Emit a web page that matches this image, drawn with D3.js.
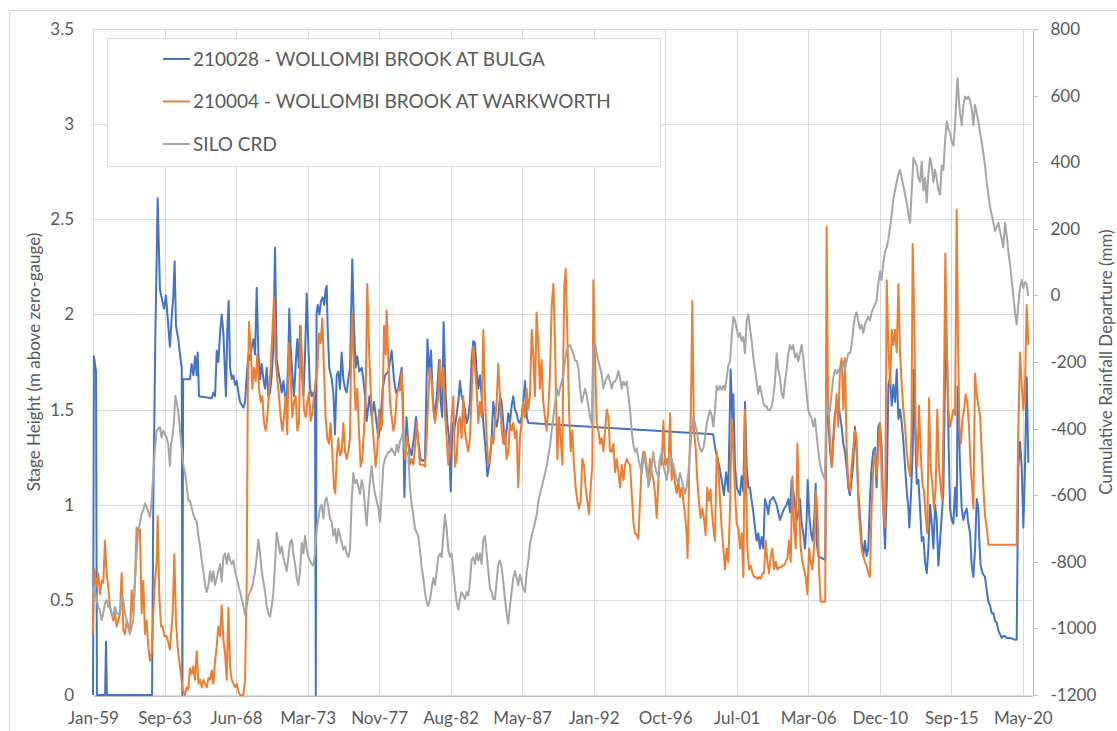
<!DOCTYPE html>
<html lang="en">
<head>
<meta charset="UTF-8">
<title>Wollombi Brook stage height vs SILO CRD</title>
<script src="https://cdn.jsdelivr.net/npm/d3@7"></script>
<style>
body { margin: 0; background: #ffffff; }
svg { display: block; font-family: Lato, "Open Sans", sans-serif; }
.grid line { stroke: #d9d9d9; stroke-width: 1; shape-rendering: crispEdges; }
.axis text { fill: #595959; font-size: 17px; font-family: Lato, "Open Sans", sans-serif; }
.axis path, .axis line { stroke: #bfbfbf; shape-rendering: crispEdges; }
.series { fill: none; stroke-width: 2; stroke-linejoin: round; }
.title { fill: #595959; font-size: 17px; }
.legend text { fill: #595959; font-size: 19px; }
</style>
</head>
<body>
<div id="chart"></div>
<script>
// ---- data: [decimal year, value] ----
const xTickLabels = ["Jan-59","Sep-63","Jun-68","Mar-73","Nov-77","Aug-82","May-87","Jan-92","Oct-96","Jul-01","Mar-06","Dec-10","Sep-15","May-20"];
const tickStepDays = 1725;
const leftTicks = [0, 0.5, 1, 1.5, 2, 2.5, 3, 3.5];
const rightTicks = [-1200, -1000, -800, -600, -400, -200, 0, 200, 400, 600, 800];

const seriesNames = ["210028 - WOLLOMBI BROOK AT BULGA", "210004 - WOLLOMBI BROOK AT WARKWORTH", "SILO CRD"];
const seriesColors = ["#4472c4", "#ed7d31", "#a5a5a5"];

// 210028 stage height (m)
const bulga = [
[1959.00,0.00],[1959.06,1.78],[1959.20,1.70],[1959.26,0.00],[1959.80,0.00],[1959.86,0.28],[1959.92,0.00],
[1962.90,0.00],[1962.98,1.00],[1963.12,1.90],[1963.27,2.61],[1963.42,2.13],[1963.53,2.09],[1963.69,2.03],[1963.82,2.10],
[1963.97,1.94],[1964.08,1.83],[1964.19,1.98],[1964.30,2.09],[1964.39,2.28],[1964.48,1.94],[1964.63,1.87],[1964.79,1.76],
[1964.86,1.72],[1964.90,0.00],[1964.95,1.66],[1965.40,1.66],[1965.51,1.74],[1965.63,1.68],[1965.74,1.78],[1965.85,1.68],
[1965.91,1.80],[1966.00,1.57],[1966.84,1.56],[1966.95,1.59],[1967.06,1.57],[1967.17,1.81],[1967.28,1.75],[1967.39,1.90],
[1967.50,2.00],[1967.61,1.90],[1967.72,1.68],[1967.78,1.57],[1967.87,1.92],[1967.96,2.07],[1968.05,1.72],[1968.16,1.66],
[1968.27,1.68],[1968.38,1.63],[1968.49,1.65],[1968.60,1.59],[1968.71,1.54],[1968.93,1.51],[1969.04,1.54],[1969.15,1.68],
[1969.26,1.79],[1969.37,1.76],[1969.48,1.83],[1969.59,1.87],[1969.70,1.79],[1969.81,2.14],[1969.92,1.79],[1970.03,1.66],
[1970.14,1.74],[1970.25,1.66],[1970.36,1.61],[1970.47,1.72],[1970.58,1.57],[1970.69,1.59],[1970.80,1.68],[1970.91,1.83],
[1971.02,2.35],[1971.13,1.76],[1971.24,1.70],[1971.35,1.65],[1971.46,1.59],[1971.57,1.65],[1971.68,1.57],[1971.79,1.54],
[1971.90,1.79],[1971.96,2.03],[1972.05,1.83],[1972.18,1.66],[1972.27,1.57],[1972.40,1.76],[1972.49,1.87],[1972.60,1.72],
[1972.67,1.94],[1972.78,1.72],[1972.89,1.57],[1973.00,1.79],[1973.11,2.11],[1973.22,1.83],[1973.33,1.61],[1973.44,1.57],
[1973.55,1.59],[1973.66,1.59],[1973.71,0.00],[1973.76,2.00],[1973.84,2.05],[1973.95,2.00],[1974.05,2.07],[1974.16,2.09],
[1974.27,2.05],[1974.36,2.13],[1974.43,2.15],[1974.49,1.94],[1974.60,1.72],[1974.76,1.66],[1974.87,1.59],[1974.98,1.37],
[1975.09,1.68],[1975.20,1.70],[1975.31,1.61],[1975.42,1.80],[1975.53,1.66],[1975.64,1.61],[1975.75,1.59],[1975.86,1.66],
[1975.97,1.72],[1976.12,2.29],[1976.23,1.94],[1976.34,1.72],[1976.45,1.78],[1976.58,1.70],[1976.74,1.72],[1976.85,1.66],
[1976.96,1.57],[1977.07,1.44],[1977.25,1.57],[1977.40,1.46],[1977.55,1.54],[1977.68,1.46],[1977.84,1.35],[1977.95,1.41],
[1978.13,1.61],[1978.28,1.68],[1978.50,1.70],[1978.72,1.81],[1978.87,1.66],[1979.00,1.59],[1979.16,1.61],[1979.38,1.72],
[1979.46,1.55],[1979.56,1.04],[1979.70,1.46],[1979.82,1.32],[1980.04,1.26],[1980.19,1.35],[1980.33,1.46],[1980.48,1.33],
[1980.63,1.24],[1980.77,1.23],[1980.92,1.24],[1981.08,1.87],[1981.21,1.68],[1981.32,1.81],[1981.43,1.57],[1981.54,1.46],
[1981.70,1.57],[1981.85,1.76],[1981.96,1.54],[1982.06,1.46],[1982.15,1.96],[1982.29,1.57],[1982.40,1.43],[1982.51,1.35],
[1982.62,1.07],[1982.73,1.43],[1982.84,1.39],[1982.97,1.45],[1983.12,1.54],[1983.23,1.65],[1983.34,1.57],[1983.45,1.54],
[1983.56,1.50],[1983.67,1.43],[1983.78,1.46],[1983.89,1.54],[1984.00,1.76],[1984.11,1.86],[1984.22,1.85],[1984.33,1.70],
[1984.44,1.61],[1984.55,1.68],[1984.66,1.57],[1984.77,1.43],[1984.95,1.26],[1985.04,1.15],[1985.17,1.21],[1985.32,1.35],
[1985.43,1.54],[1985.54,1.46],[1985.65,1.41],[1985.76,1.46],[1985.87,1.57],[1985.98,1.54],[1986.09,1.43],[1986.20,1.32],
[1986.31,1.39],[1986.42,1.48],[1986.53,1.43],[1986.64,1.52],[1986.75,1.57],[1986.86,1.50],[1986.97,1.48],[1987.08,1.44],
[1987.19,1.43],[1987.30,1.46],[1987.41,1.54],[1987.53,1.65],[1987.64,1.46],[1987.75,1.43],[1999.95,1.37],[2000.10,1.29],
[2000.36,1.20],[2000.51,1.13],[2000.66,1.05],[2000.80,1.17],[2000.95,1.07],[2001.10,1.71],[2001.21,1.45],[2001.28,1.58],
[2001.39,1.20],[2001.50,1.09],[2001.61,1.07],[2001.72,1.05],[2001.83,1.15],[2001.94,1.07],[2002.05,1.54],[2002.16,1.20],
[2002.27,1.09],[2002.38,1.09],[2002.49,1.02],[2002.60,0.96],[2002.71,0.88],[2002.82,0.81],[2002.93,0.85],[2003.04,0.77],
[2003.15,0.83],[2003.26,0.77],[2003.37,1.03],[2003.48,1.00],[2003.59,0.95],[2003.70,1.02],[2003.92,1.04],[2004.14,1.00],
[2004.36,0.92],[2004.58,0.97],[2004.80,1.00],[2004.91,1.03],[2005.02,0.96],[2005.13,1.13],[2005.24,1.07],[2005.35,1.00],
[2005.46,0.92],[2005.57,0.96],[2005.68,1.03],[2005.79,0.90],[2005.90,0.85],[2006.01,0.77],[2006.12,0.92],[2006.19,1.13],
[2006.30,0.94],[2006.41,0.85],[2006.52,0.81],[2006.63,0.94],[2006.72,1.11],[2006.78,0.81],[2006.89,0.73],[2007.11,0.72],
[2007.35,0.71],[2007.44,1.54],[2007.55,1.45],[2007.66,1.30],[2007.77,1.20],[2007.88,1.35],[2007.99,1.48],[2008.10,1.50],
[2008.21,1.54],[2008.32,1.47],[2008.43,1.41],[2008.54,1.32],[2008.65,1.28],[2008.76,1.20],[2008.87,1.09],[2008.98,1.05],
[2009.09,1.13],[2009.20,1.22],[2009.31,1.41],[2009.42,1.28],[2009.53,1.07],[2009.64,0.94],[2009.75,0.81],[2009.86,0.73],
[2009.97,0.81],[2010.08,0.73],[2010.19,0.77],[2010.30,1.03],[2010.41,1.20],[2010.52,1.28],[2010.63,1.30],[2010.74,1.09],
[2010.85,1.41],[2010.96,1.43],[2011.07,1.30],[2011.18,0.98],[2011.30,0.77],[2011.41,1.07],[2011.52,1.63],[2011.63,1.67],
[2011.74,1.52],[2011.85,1.63],[2011.96,1.54],[2012.07,1.71],[2012.18,1.45],[2012.29,1.50],[2012.40,1.43],[2012.51,1.33],
[2012.62,1.20],[2012.73,1.07],[2012.84,0.98],[2012.90,0.88],[2013.01,1.05],[2013.12,1.28],[2013.21,1.71],[2013.28,1.41],
[2013.39,1.11],[2013.50,1.13],[2013.61,0.98],[2013.72,0.81],[2013.83,0.83],[2013.94,0.70],[2014.05,0.64],[2014.16,0.77],
[2014.27,1.00],[2014.38,0.90],[2014.49,0.77],[2014.60,1.00],[2014.71,0.92],[2014.82,0.68],[2014.93,0.81],[2015.04,0.94],
[2015.15,1.07],[2015.26,1.67],[2015.32,1.95],[2015.41,1.71],[2015.50,1.30],[2015.59,0.98],[2015.70,0.92],[2015.81,0.90],
[2015.92,1.09],[2016.03,0.94],[2016.09,1.62],[2016.18,1.41],[2016.25,1.20],[2016.36,0.98],[2016.47,0.92],[2016.58,0.96],
[2016.69,0.98],[2016.80,0.90],[2016.91,0.85],[2017.02,0.68],[2017.13,0.62],[2017.24,0.77],[2017.35,1.03],[2017.46,0.98],
[2017.52,0.81],[2017.61,0.68],[2017.74,0.64],[2017.90,0.62],[2018.01,0.55],[2018.12,0.49],[2018.23,0.47],[2018.34,0.43],
[2018.45,0.43],[2018.56,0.39],[2018.67,0.38],[2018.78,0.34],[2018.89,0.32],[2019.00,0.30],[2019.11,0.31],[2019.22,0.31],
[2019.33,0.30],[2019.55,0.30],[2019.88,0.29],[2019.99,0.29],[2020.10,1.20],[2020.21,1.33],[2020.32,1.20],[2020.43,0.88],
[2020.54,1.20],[2020.65,1.67],[2020.76,1.22]
];

// 210004 stage height (m)
const warkworth = [
[1958.98,0.32],[1959.09,0.66],[1959.24,0.57],[1959.35,0.64],[1959.46,0.53],[1959.57,0.60],[1959.68,0.59],[1959.79,0.81],
[1959.90,0.64],[1960.01,0.57],[1960.12,0.46],[1960.23,0.43],[1960.34,0.39],[1960.45,0.43],[1960.56,0.36],[1960.67,0.39],
[1960.78,0.43],[1960.89,0.64],[1961.00,0.34],[1961.11,0.32],[1961.22,0.39],[1961.33,0.36],[1961.44,0.32],[1961.55,0.55],
[1961.66,0.43],[1961.77,0.60],[1961.88,0.88],[1961.99,0.85],[1962.10,0.87],[1962.21,0.43],[1962.32,0.60],[1962.43,0.32],
[1962.54,0.39],[1962.65,0.25],[1962.76,0.18],[1962.87,0.22],[1962.98,0.43],[1963.09,0.60],[1963.20,0.69],[1963.27,0.94],
[1963.38,0.52],[1963.49,0.36],[1963.60,0.36],[1963.71,0.31],[1963.86,0.31],[1964.08,0.24],[1964.26,0.43],[1964.37,0.74],
[1964.48,0.39],[1964.59,0.25],[1964.74,0.15],[1964.92,0.03],[1965.07,0.00],[1965.18,0.04],[1965.29,0.03],[1965.40,0.14],
[1965.51,0.11],[1965.62,0.15],[1965.73,0.08],[1965.85,0.23],[1965.96,0.06],[1966.07,0.08],[1966.18,0.04],[1966.29,0.08],
[1966.40,0.06],[1966.51,0.04],[1966.62,0.09],[1966.73,0.08],[1966.84,0.13],[1966.95,0.06],[1967.05,0.17],[1967.16,0.25],
[1967.28,0.36],[1967.39,0.31],[1967.50,0.47],[1967.61,0.29],[1967.72,0.22],[1967.83,0.08],[1967.94,0.46],[1968.05,0.15],
[1968.16,0.08],[1968.27,0.06],[1968.38,0.04],[1968.49,0.06],[1968.60,0.02],[1968.71,0.00],[1968.93,0.00],[1969.04,0.08],
[1969.15,0.60],[1969.22,1.60],[1969.30,1.96],[1969.41,1.83],[1969.52,1.61],[1969.63,1.72],[1969.74,1.65],[1969.85,1.79],
[1969.96,1.61],[1970.07,1.54],[1970.18,1.57],[1970.29,1.43],[1970.40,1.39],[1970.51,1.46],[1970.62,1.59],[1970.73,1.72],
[1970.84,1.90],[1970.95,2.09],[1971.06,1.76],[1971.17,1.66],[1971.28,1.57],[1971.39,1.46],[1971.50,1.39],[1971.61,1.46],
[1971.72,1.57],[1971.83,1.37],[1971.94,1.85],[1972.05,1.68],[1972.16,1.46],[1972.27,1.54],[1972.38,1.57],[1972.49,1.39],
[1972.60,1.43],[1972.71,1.94],[1972.82,1.72],[1972.93,1.50],[1973.04,1.46],[1973.15,1.54],[1973.26,1.59],[1973.37,1.44],
[1973.48,1.48],[1973.59,1.57],[1973.70,1.65],[1973.81,1.72],[1973.92,1.90],[1974.03,1.85],[1974.14,1.98],[1974.25,1.72],
[1974.36,1.46],[1974.47,1.35],[1974.58,1.32],[1974.69,1.43],[1974.80,1.28],[1974.91,1.09],[1975.00,1.06],[1975.09,1.24],
[1975.20,1.35],[1975.31,1.26],[1975.42,1.28],[1975.53,1.43],[1975.64,1.28],[1975.75,1.24],[1975.86,1.28],[1975.97,1.35],
[1976.04,1.78],[1976.12,2.00],[1976.23,1.72],[1976.34,1.50],[1976.45,1.61],[1976.56,1.39],[1976.67,1.20],[1976.78,1.24],
[1976.89,1.39],[1977.00,1.57],[1977.11,2.16],[1977.22,1.83],[1977.33,1.61],[1977.44,1.43],[1977.55,1.32],[1977.66,1.20],
[1977.77,1.28],[1977.88,1.50],[1977.99,1.39],[1978.10,1.43],[1978.22,1.94],[1978.33,1.79],[1978.39,2.02],[1978.50,1.76],
[1978.61,1.54],[1978.72,1.46],[1978.83,1.39],[1978.94,1.43],[1979.05,1.57],[1979.16,1.61],[1979.27,1.60],[1979.38,1.70],
[1979.49,1.40],[1979.60,1.24],[1979.71,1.36],[1979.82,1.32],[1979.93,1.21],[1980.04,1.24],[1980.15,1.21],[1980.26,1.30],
[1980.37,1.43],[1980.48,1.32],[1980.59,1.21],[1980.70,1.21],[1980.81,1.21],[1980.92,1.20],[1981.03,1.35],[1981.14,1.57],
[1981.25,1.72],[1981.36,1.65],[1981.47,1.50],[1981.58,1.43],[1981.69,1.50],[1981.80,1.57],[1981.91,1.76],[1982.02,1.61],
[1982.13,1.72],[1982.24,1.48],[1982.35,1.35],[1982.46,1.21],[1982.57,1.28],[1982.68,1.46],[1982.79,1.57],[1982.90,1.20],
[1983.01,1.24],[1983.12,1.43],[1983.23,1.46],[1983.34,1.35],[1983.45,1.57],[1983.56,1.39],[1983.67,1.32],[1983.78,1.28],
[1983.89,1.35],[1984.00,1.57],[1984.11,1.83],[1984.22,1.72],[1984.33,1.61],[1984.44,1.43],[1984.55,1.54],[1984.66,1.46],
[1984.77,1.92],[1984.88,1.57],[1984.99,1.35],[1985.10,1.21],[1985.21,1.24],[1985.32,1.35],[1985.43,1.32],[1985.54,1.43],
[1985.65,1.54],[1985.76,1.74],[1985.87,1.57],[1985.98,1.39],[1986.09,1.32],[1986.20,1.39],[1986.31,1.24],[1986.42,1.28],
[1986.53,1.43],[1986.64,1.39],[1986.75,1.43],[1986.86,1.35],[1986.97,1.39],[1987.08,1.09],[1987.19,1.35],[1987.30,1.43],
[1987.41,1.54],[1987.52,1.46],[1987.63,1.61],[1987.74,1.50],[1987.85,1.57],[1987.97,1.92],[1988.07,1.79],[1988.18,1.57],
[1988.29,2.01],[1988.40,1.83],[1988.51,1.61],[1988.62,1.76],[1988.73,1.54],[1988.84,1.46],[1988.95,1.39],[1989.06,1.50],
[1989.17,1.68],[1989.29,2.05],[1989.40,2.16],[1989.51,1.83],[1989.57,1.57],[1989.66,1.24],[1989.77,1.46],[1989.88,1.35],
[1989.99,1.21],[1990.05,1.76],[1990.12,2.15],[1990.21,2.24],[1990.32,1.90],[1990.43,1.50],[1990.54,1.28],[1990.65,1.39],
[1990.76,1.21],[1990.87,1.09],[1990.98,1.02],[1991.09,0.98],[1991.20,1.02],[1991.31,1.24],[1991.42,1.21],[1991.53,1.09],
[1991.64,1.02],[1991.75,0.95],[1991.86,1.09],[1991.97,1.21],[1992.04,2.18],[1992.15,1.76],[1992.26,1.43],[1992.37,1.39],
[1992.48,1.32],[1992.59,1.35],[1992.70,1.28],[1992.81,1.39],[1992.92,1.50],[1993.03,1.46],[1993.14,1.28],[1993.25,1.28],
[1993.36,1.32],[1993.47,1.17],[1993.58,1.24],[1993.69,1.17],[1993.80,1.09],[1993.91,1.21],[1994.02,1.13],[1994.13,1.21],
[1994.24,1.24],[1994.35,1.22],[1994.46,1.21],[1994.57,1.06],[1994.68,0.91],[1994.79,0.85],[1994.90,0.84],[1995.01,0.82],
[1995.12,1.02],[1995.23,1.21],[1995.34,1.28],[1995.45,1.24],[1995.56,1.17],[1995.67,1.13],[1995.78,1.24],[1995.89,1.17],
[1996.00,1.13],[1996.11,1.06],[1996.22,0.93],[1996.33,1.13],[1996.44,1.24],[1996.55,1.21],[1996.66,1.44],[1996.77,1.21],
[1996.88,1.24],[1996.99,1.17],[1997.10,1.48],[1997.21,1.13],[1997.32,1.21],[1997.43,1.11],[1997.54,1.06],[1997.65,1.13],
[1997.76,1.04],[1997.87,1.09],[1997.98,1.02],[1998.09,0.95],[1998.20,0.84],[1998.26,0.72],[1998.37,1.20],[1998.48,1.50],
[1998.57,2.07],[1998.68,1.39],[1998.79,1.30],[1998.90,1.13],[1999.01,1.02],[1999.12,0.93],[1999.23,0.98],[1999.34,0.93],
[1999.45,0.84],[1999.56,1.09],[1999.67,1.02],[1999.78,1.08],[1999.85,0.98],[1999.96,0.88],[2000.07,0.81],[2000.18,1.28],
[2000.29,1.20],[2000.40,1.03],[2000.51,0.88],[2000.62,0.77],[2000.73,0.66],[2000.84,0.77],[2000.95,0.70],[2001.06,0.98],
[2001.17,1.45],[2001.28,1.28],[2001.39,1.07],[2001.50,0.90],[2001.61,0.88],[2001.72,0.77],[2001.83,0.85],[2001.94,0.62],
[2002.05,1.50],[2002.12,1.09],[2002.21,0.77],[2002.32,0.66],[2002.43,0.68],[2002.54,0.64],[2002.65,0.62],[2002.76,0.62],
[2002.87,0.61],[2002.98,0.62],[2003.09,0.61],[2003.20,0.64],[2003.31,0.64],[2003.42,0.81],[2003.53,0.70],[2003.64,0.64],
[2003.75,0.73],[2003.86,0.77],[2003.97,0.66],[2004.08,0.70],[2004.19,0.66],[2004.30,0.67],[2004.41,0.67],[2004.52,0.68],
[2004.63,0.68],[2004.74,0.70],[2004.85,0.72],[2004.96,0.81],[2005.07,0.70],[2005.18,1.15],[2005.29,0.88],[2005.40,0.77],
[2005.51,1.32],[2005.62,0.98],[2005.73,0.77],[2005.84,0.70],[2005.95,0.66],[2006.06,0.62],[2006.17,0.53],[2006.28,0.77],
[2006.39,0.70],[2006.50,0.66],[2006.61,0.77],[2006.72,1.07],[2006.83,0.98],[2006.94,0.66],[2007.05,0.49],[2007.35,0.49],
[2007.44,2.46],[2007.53,1.58],[2007.62,1.41],[2007.71,1.28],[2007.80,1.20],[2007.88,1.32],[2007.99,1.45],[2008.10,1.58],
[2008.21,1.41],[2008.32,1.71],[2008.43,1.77],[2008.54,1.50],[2008.65,1.77],[2008.76,1.30],[2008.87,1.11],[2008.98,1.07],
[2009.09,1.20],[2009.20,1.30],[2009.31,1.39],[2009.42,1.35],[2009.53,1.02],[2009.64,0.88],[2009.75,0.77],[2009.86,0.73],
[2009.97,0.70],[2010.08,0.68],[2010.19,0.64],[2010.30,0.62],[2010.41,0.98],[2010.52,1.20],[2010.63,1.28],[2010.74,1.15],
[2010.85,1.28],[2010.96,1.43],[2011.07,1.20],[2011.18,0.98],[2011.30,0.88],[2011.41,2.18],[2011.52,1.84],[2011.63,1.63],
[2011.74,1.92],[2011.85,1.84],[2011.96,1.92],[2012.07,1.80],[2012.18,2.16],[2012.29,1.80],[2012.40,1.63],[2012.51,1.50],
[2012.62,1.41],[2012.73,1.28],[2012.84,1.20],[2012.95,1.15],[2013.04,1.37],[2013.12,2.37],[2013.21,2.05],[2013.32,1.41],
[2013.43,1.20],[2013.54,1.52],[2013.65,1.28],[2013.76,1.11],[2013.87,1.07],[2013.98,0.94],[2014.09,0.85],[2014.20,1.56],
[2014.31,1.20],[2014.42,1.11],[2014.53,0.98],[2014.64,1.09],[2014.75,1.50],[2014.86,1.20],[2014.97,1.09],[2015.08,1.02],
[2015.19,1.62],[2015.28,2.32],[2015.37,1.84],[2015.48,1.50],[2015.59,1.41],[2015.70,1.45],[2015.81,1.50],[2015.92,1.47],
[2016.03,2.55],[2016.12,1.84],[2016.21,1.41],[2016.30,1.32],[2016.41,1.45],[2016.52,1.50],[2016.62,1.58],[2016.73,1.54],
[2016.84,1.41],[2016.95,1.20],[2017.06,1.07],[2017.13,0.98],[2017.24,1.69],[2017.35,1.58],[2017.46,1.52],[2017.57,1.47],
[2017.68,1.28],[2017.79,1.09],[2017.90,0.94],[2018.01,0.88],[2018.12,0.79],[2019.99,0.79],[2020.10,1.41],[2020.21,1.80],
[2020.32,1.63],[2020.43,1.50],[2020.54,1.63],[2020.65,2.05],[2020.76,1.84]
];

// SILO cumulative rainfall departure (mm), right axis
const siloCrd = [
[1958.98,-895],[1959.09,-875],[1959.24,-915],[1959.35,-935],[1959.46,-945],[1959.57,-975],[1959.68,-955],[1959.79,-925],
[1959.90,-915],[1960.01,-935],[1960.12,-935],[1960.23,-955],[1960.34,-965],[1960.45,-935],[1960.56,-955],[1960.67,-955],
[1960.78,-955],[1960.89,-905],[1961.00,-915],[1961.11,-955],[1961.22,-975],[1961.33,-995],[1961.44,-1015],[1961.55,-995],
[1961.66,-975],[1961.77,-855],[1961.88,-775],[1961.99,-705],[1962.10,-685],[1962.21,-655],[1962.32,-645],[1962.43,-625],
[1962.54,-635],[1962.65,-650],[1962.76,-665],[1962.87,-620],[1962.98,-534],[1963.09,-460],[1963.20,-406],[1963.31,-400],
[1963.42,-396],[1963.53,-427],[1963.64,-406],[1963.75,-417],[1963.86,-427],[1963.97,-448],[1964.08,-512],[1964.15,-448],
[1964.24,-427],[1964.35,-375],[1964.44,-301],[1964.53,-322],[1964.64,-354],[1964.75,-406],[1964.86,-459],[1964.97,-512],
[1965.08,-533],[1965.19,-575],[1965.30,-617],[1965.41,-617],[1965.52,-638],[1965.63,-659],[1965.74,-670],[1965.85,-680],
[1965.96,-722],[1966.07,-754],[1966.18,-796],[1966.29,-828],[1966.40,-870],[1966.51,-891],[1966.62,-870],[1966.73,-828],
[1966.84,-859],[1966.95,-828],[1967.06,-870],[1967.17,-849],[1967.28,-828],[1967.39,-807],[1967.50,-859],[1967.61,-786],
[1967.72,-775],[1967.83,-807],[1967.94,-775],[1968.05,-796],[1968.16,-807],[1968.27,-796],[1968.38,-828],[1968.49,-849],
[1968.60,-870],[1968.71,-891],[1968.82,-912],[1968.93,-933],[1969.04,-960],[1969.15,-933],[1969.26,-901],[1969.37,-891],
[1969.48,-880],[1969.59,-859],[1969.70,-828],[1969.81,-786],[1969.92,-733],[1970.03,-775],[1970.14,-828],[1970.25,-859],
[1970.36,-891],[1970.47,-933],[1970.58,-954],[1970.69,-965],[1970.80,-933],[1970.91,-891],[1971.02,-807],[1971.13,-712],
[1971.24,-743],[1971.35,-775],[1971.46,-754],[1971.57,-786],[1971.68,-807],[1971.79,-828],[1971.90,-786],[1972.01,-743],
[1972.12,-733],[1972.23,-775],[1972.34,-807],[1972.45,-849],[1972.56,-870],[1972.67,-828],[1972.78,-743],[1972.89,-775],
[1973.00,-722],[1973.11,-764],[1973.22,-786],[1973.33,-796],[1973.44,-807],[1973.55,-812],[1973.66,-775],[1973.77,-701],
[1973.88,-670],[1973.99,-638],[1974.10,-628],[1974.21,-670],[1974.32,-617],[1974.43,-607],[1974.54,-638],[1974.65,-670],
[1974.76,-680],[1974.87,-722],[1974.98,-701],[1975.09,-743],[1975.20,-701],[1975.31,-722],[1975.42,-743],[1975.53,-764],
[1975.64,-754],[1975.75,-775],[1975.86,-786],[1975.97,-764],[1976.08,-617],[1976.19,-533],[1976.30,-564],[1976.41,-554],
[1976.52,-575],[1976.63,-596],[1976.74,-554],[1976.85,-575],[1976.96,-638],[1977.07,-691],[1977.18,-617],[1977.29,-554],
[1977.40,-512],[1977.51,-564],[1977.62,-596],[1977.73,-617],[1977.84,-638],[1977.95,-680],[1978.06,-596],[1978.17,-512],
[1978.28,-491],[1978.39,-480],[1978.50,-470],[1978.61,-470],[1978.72,-459],[1978.83,-470],[1978.94,-480],[1979.05,-448],
[1979.16,-470],[1979.27,-438],[1979.38,-427],[1979.49,-406],[1979.60,-459],[1979.71,-470],[1979.82,-480],[1979.93,-575],
[1980.04,-628],[1980.15,-659],[1980.26,-701],[1980.37,-712],[1980.48,-722],[1980.59,-764],[1980.70,-817],[1980.81,-849],
[1980.92,-891],[1981.03,-922],[1981.14,-933],[1981.25,-912],[1981.36,-880],[1981.47,-849],[1981.58,-870],[1981.69,-828],
[1981.80,-786],[1981.91,-775],[1982.02,-786],[1982.13,-722],[1982.24,-659],[1982.35,-701],[1982.46,-764],[1982.57,-786],
[1982.68,-775],[1982.79,-828],[1982.90,-880],[1983.01,-922],[1983.12,-944],[1983.23,-912],[1983.34,-891],[1983.45,-901],
[1983.56,-912],[1983.67,-891],[1983.78,-901],[1983.89,-859],[1984.00,-796],[1984.11,-786],[1984.22,-807],[1984.33,-775],
[1984.44,-796],[1984.55,-775],[1984.66,-807],[1984.77,-733],[1984.88,-722],[1984.99,-775],[1985.10,-828],[1985.21,-880],
[1985.32,-891],[1985.43,-912],[1985.54,-912],[1985.65,-859],[1985.76,-807],[1985.87,-796],[1985.98,-817],[1986.09,-859],
[1986.20,-912],[1986.31,-954],[1986.42,-986],[1986.53,-933],[1986.64,-891],[1986.75,-849],[1986.86,-828],[1986.97,-849],
[1987.08,-870],[1987.19,-838],[1987.30,-859],[1987.41,-880],[1987.53,-891],[1987.64,-828],[1987.75,-796],[1987.86,-743],
[1987.97,-722],[1988.08,-701],[1988.19,-680],[1988.30,-659],[1988.41,-617],[1988.52,-596],[1988.63,-575],[1988.74,-554],
[1988.85,-533],[1988.96,-512],[1989.07,-480],[1989.18,-449],[1989.29,-406],[1989.40,-364],[1989.51,-322],[1989.62,-280],
[1989.73,-301],[1989.84,-280],[1989.95,-259],[1990.06,-238],[1990.17,-196],[1990.28,-164],[1990.39,-154],[1990.50,-149],
[1990.61,-164],[1990.72,-175],[1990.83,-196],[1990.94,-196],[1991.05,-217],[1991.16,-280],[1991.27,-322],[1991.38,-301],
[1991.49,-280],[1991.60,-301],[1991.71,-333],[1991.82,-364],[1991.93,-385],[1992.04,-154],[1992.15,-143],[1992.26,-175],
[1992.37,-196],[1992.48,-217],[1992.59,-238],[1992.70,-280],[1992.81,-259],[1992.92,-248],[1993.03,-238],[1993.14,-259],
[1993.25,-280],[1993.36,-259],[1993.47,-259],[1993.58,-248],[1993.69,-227],[1993.80,-248],[1993.91,-280],[1994.02,-259],
[1994.13,-269],[1994.24,-259],[1994.35,-301],[1994.46,-343],[1994.57,-406],[1994.68,-449],[1994.79,-470],[1994.90,-459],
[1995.01,-491],[1995.12,-512],[1995.23,-533],[1995.34,-491],[1995.45,-470],[1995.56,-512],[1995.67,-575],[1995.78,-554],
[1995.89,-512],[1996.00,-470],[1996.11,-512],[1996.22,-533],[1996.33,-543],[1996.44,-491],[1996.55,-470],[1996.66,-512],
[1996.77,-533],[1996.88,-554],[1996.99,-512],[1997.10,-480],[1997.21,-491],[1997.32,-512],[1997.43,-533],[1997.54,-554],
[1997.65,-564],[1997.76,-533],[1997.87,-554],[1997.98,-575],[1998.09,-596],[1998.20,-575],[1998.31,-533],[1998.42,-470],
[1998.53,-406],[1998.64,-364],[1998.75,-385],[1998.86,-406],[1998.97,-438],[1999.08,-459],[1999.19,-470],[1999.30,-459],
[1999.41,-428],[1999.52,-385],[1999.63,-364],[1999.74,-345],[1999.85,-360],[1999.96,-394],[2000.07,-345],[2000.18,-272],
[2000.29,-284],[2000.40,-272],[2000.51,-284],[2000.62,-272],[2000.73,-284],[2000.84,-247],[2000.95,-210],[2001.06,-198],
[2001.17,-125],[2001.28,-64],[2001.39,-76],[2001.50,-100],[2001.61,-125],[2001.72,-113],[2001.83,-137],[2001.94,-125],
[2002.05,-174],[2002.16,-76],[2002.27,-57],[2002.38,-100],[2002.49,-137],[2002.60,-186],[2002.71,-223],[2002.82,-259],
[2002.93,-296],[2003.04,-272],[2003.15,-296],[2003.26,-321],[2003.37,-333],[2003.48,-333],[2003.59,-345],[2003.70,-345],
[2003.81,-333],[2003.92,-308],[2004.03,-259],[2004.14,-174],[2004.25,-223],[2004.36,-247],[2004.47,-296],[2004.58,-308],
[2004.69,-259],[2004.80,-223],[2004.91,-174],[2005.02,-149],[2005.13,-162],[2005.24,-149],[2005.35,-186],[2005.46,-174],
[2005.57,-198],[2005.68,-174],[2005.79,-149],[2005.90,-186],[2006.01,-247],[2006.12,-296],[2006.23,-345],[2006.34,-357],
[2006.45,-370],[2006.56,-394],[2006.67,-370],[2006.78,-419],[2006.89,-468],[2007.00,-504],[2007.11,-528],[2007.22,-541],
[2007.33,-553],[2007.44,-321],[2007.55,-357],[2007.66,-345],[2007.77,-296],[2007.88,-247],[2007.99,-223],[2008.10,-235],
[2008.21,-223],[2008.32,-235],[2008.43,-223],[2008.54,-198],[2008.65,-223],[2008.76,-198],[2008.87,-174],[2008.98,-174],
[2009.09,-149],[2009.20,-100],[2009.31,-64],[2009.42,-51],[2009.53,-76],[2009.64,-100],[2009.75,-88],[2009.86,-113],
[2009.97,-88],[2010.08,-76],[2010.19,-64],[2010.30,-76],[2010.41,-51],[2010.52,-39],[2010.63,-27],[2010.74,-15],
[2010.85,34],[2010.96,71],[2011.07,46],[2011.18,95],[2011.30,132],[2011.41,144],[2011.52,169],[2011.63,205],
[2011.74,242],[2011.85,291],[2011.96,315],[2012.07,340],[2012.18,364],[2012.29,377],[2012.40,352],[2012.51,328],
[2012.62,303],[2012.73,279],[2012.84,242],[2012.95,218],[2013.06,315],[2013.17,413],[2013.28,401],[2013.39,389],
[2013.50,352],[2013.61,340],[2013.72,401],[2013.83,315],[2013.94,352],[2014.05,279],[2014.16,364],[2014.27,413],
[2014.38,389],[2014.49,340],[2014.60,377],[2014.71,352],[2014.82,315],[2014.93,303],[2015.04,389],[2015.15,377],
[2015.26,462],[2015.37,523],[2015.48,499],[2015.59,487],[2015.70,462],[2015.81,450],[2015.92,511],[2016.03,609],
[2016.09,652],[2016.18,584],[2016.25,548],[2016.36,511],[2016.47,572],[2016.58,597],[2016.69,590],[2016.80,597],
[2016.91,584],[2017.02,560],[2017.13,511],[2017.24,572],[2017.35,548],[2017.46,523],[2017.57,487],[2017.68,462],
[2017.79,426],[2017.90,389],[2018.01,340],[2018.12,303],[2018.23,266],[2018.34,242],[2018.45,218],[2018.56,193],
[2018.67,205],[2018.78,218],[2018.89,193],[2019.00,169],[2019.11,144],[2019.22,218],[2019.33,181],[2019.44,132],
[2019.55,95],[2019.66,46],[2019.77,-2],[2019.88,-51],[2019.99,-88],[2020.10,-27],[2020.21,22],[2020.32,46],
[2020.43,22],[2020.54,40],[2020.65,34],[2020.76,-2]
];

// ---- chart ----
const width = 1117, height = 731;
const plot = { left: 93, right: 1032, top: 29, bottom: 695 };

function toDate(y) {
  const yr = Math.floor(y);
  const a = new Date(yr, 0, 1), b = new Date(yr + 1, 0, 1);
  return new Date(a.getTime() + (y - yr) * (b - a));
}

const start = new Date(1959, 0, 1);
const tickDates = xTickLabels.map((_, i) => d3.timeDay.offset(start, i * tickStepDays));

const x = d3.scaleTime().domain([start, new Date(2021, 0, 1)]).range([plot.left, plot.right]);
const yLeft = d3.scaleLinear().domain([0, 3.5]).range([plot.bottom, plot.top]);
const yRight = d3.scaleLinear().domain([-1200, 800]).range([plot.bottom, plot.top]);

const svg = d3.select("#chart").append("svg")
  .attr("width", width)
  .attr("height", height);

// chart area outline
svg.append("rect")
  .attr("x", 9.5).attr("y", 10.5)
  .attr("width", 1300).attr("height", 900)
  .attr("fill", "none").attr("stroke", "#d9d9d9");

// gridlines
const grid = svg.append("g").attr("class", "grid");
grid.selectAll(".h").data(leftTicks).join("line")
  .attr("x1", plot.left).attr("x2", plot.right)
  .attr("y1", d => Math.round(yLeft(d)) + 0.5).attr("y2", d => Math.round(yLeft(d)) + 0.5);
grid.selectAll(".v").data(tickDates).join("line")
  .attr("x1", d => Math.round(x(d)) + 0.5).attr("x2", d => Math.round(x(d)) + 0.5)
  .attr("y1", plot.top).attr("y2", plot.bottom);

// series
const lineLeft = d3.line().x(d => x(toDate(d[0]))).y(d => yLeft(d[1]));
const lineRight = d3.line().x(d => x(toDate(d[0]))).y(d => yRight(d[1]));

svg.append("path").datum(bulga).attr("class", "series")
  .attr("stroke", seriesColors[0]).attr("d", lineLeft);
svg.append("path").datum(warkworth).attr("class", "series")
  .attr("stroke", seriesColors[1]).attr("d", lineLeft);
svg.append("path").datum(siloCrd).attr("class", "series")
  .attr("stroke", seriesColors[2]).attr("d", lineRight);

// axes
const xAxis = svg.append("g").attr("class", "axis")
  .attr("transform", `translate(0,${plot.bottom + 0.5})`)
  .call(d3.axisBottom(x).tickValues(tickDates).tickFormat((d, i) => xTickLabels[i]).tickSize(0).tickPadding(16));
xAxis.select(".domain").attr("stroke", "#d9d9d9");

const leftAxis = svg.append("g").attr("class", "axis")
  .attr("transform", `translate(${plot.left},0)`)
  .call(d3.axisLeft(yLeft).tickValues(leftTicks).tickFormat(d3.format("~g")).tickSize(0).tickPadding(19));
leftAxis.select(".domain").remove();

const rightAxis = svg.append("g").attr("class", "axis")
  .attr("transform", `translate(${plot.right + 0.5},0)`)
  .call(d3.axisRight(yRight).tickValues(rightTicks).tickFormat(d => String(d)).tickSize(5).tickSizeOuter(0).tickPadding(13));

svg.selectAll(".axis text").attr("font-family", null).attr("font-size", null);

// axis titles
svg.append("text").attr("class", "title")
  .attr("transform", `translate(40,${(plot.top + plot.bottom) / 2}) rotate(-90)`)
  .attr("text-anchor", "middle")
  .text("Stage Height (m above zero-gauge)");
svg.append("text").attr("class", "title")
  .attr("transform", `translate(1112,${(plot.top + plot.bottom) / 2}) rotate(-90)`)
  .attr("text-anchor", "middle")
  .text("Cumulative Rainfall Departure (mm)");

// legend
const legend = svg.append("g").attr("class", "legend");
legend.append("rect")
  .attr("x", 107.5).attr("y", 38.5).attr("width", 553).attr("height", 128)
  .attr("fill", "#ffffff").attr("stroke", "#d9d9d9");
const items = legend.selectAll(".item").data(seriesNames).join("g")
  .attr("transform", (d, i) => `translate(163,${59 + i * 42.5})`);
items.append("line")
  .attr("x1", 0).attr("x2", 27)
  .attr("stroke", (d, i) => seriesColors[i]).attr("stroke-width", 2);
items.append("text")
  .attr("x", 30).attr("dy", "0.35em")
  .text(d => d);
</script>
</body>
</html>
